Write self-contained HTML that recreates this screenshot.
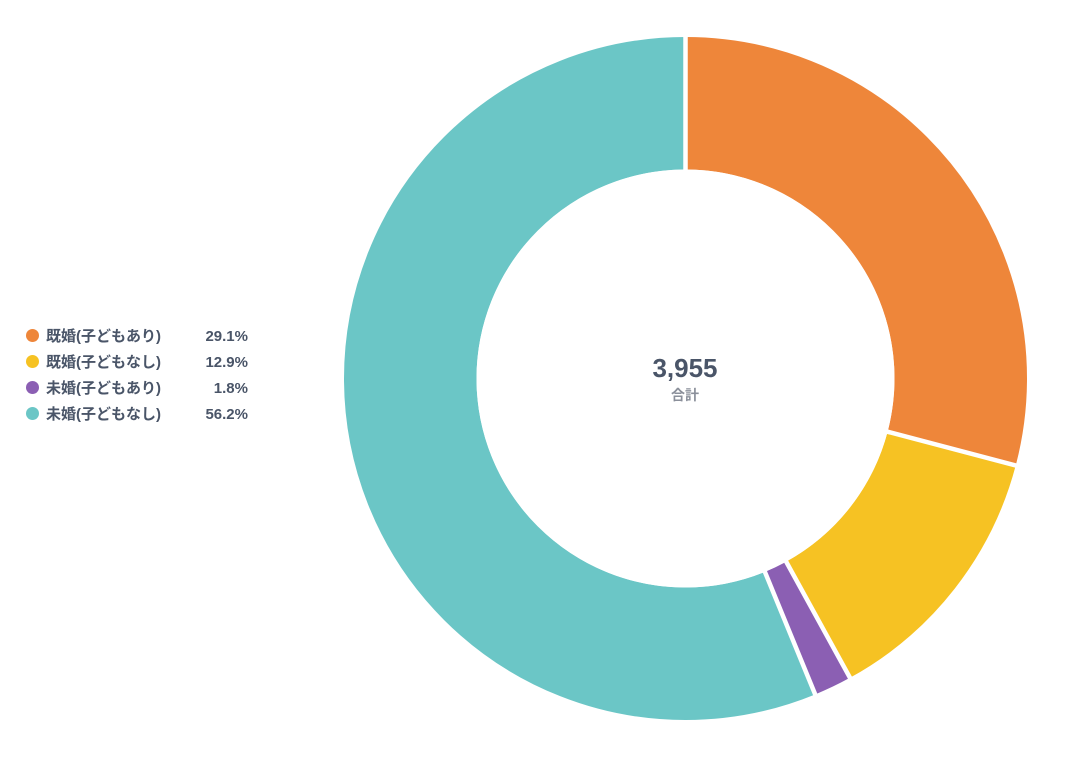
<!DOCTYPE html>
<html><head><meta charset="utf-8"><style>
body{margin:0;background:#fff;width:1067px;height:761px;overflow:hidden;font-family:"Liberation Sans","Noto Sans CJK JP",sans-serif;}
.lg{position:absolute;left:26px;font-size:15px;font-weight:bold;color:#4a5568;height:20px;line-height:20px;}
.lg i{display:inline-block;width:13px;height:13px;border-radius:50%;vertical-align:-1px;margin-right:7px;}
.lg b{position:absolute;left:0;width:222px;text-align:right;top:0;}
</style></head><body>
<svg width="1067" height="761" style="position:absolute;left:0;top:0">
<g transform="rotate(-90 685.5 378.5)" fill="none" stroke-width="132.5">
<circle cx="685.5" cy="378.5" r="275.25" stroke="#ee863a" stroke-dasharray="503.27 2000" stroke-dashoffset="0"/>
<circle cx="685.5" cy="378.5" r="275.25" stroke="#f6c223" stroke-dasharray="223.10 2000" stroke-dashoffset="-503.27"/>
<circle cx="685.5" cy="378.5" r="275.25" stroke="#8b5fb3" stroke-dasharray="31.13 2000" stroke-dashoffset="-726.37"/>
<circle cx="685.5" cy="378.5" r="275.25" stroke="#6bc6c6" stroke-dasharray="971.95 2000" stroke-dashoffset="-757.50"/>
</g>
<g stroke="#fff" stroke-width="4.5">
<line x1="685.5" y1="378.5" x2="685.5" y2="20"/>
<line x1="685.5" y1="378.5" x2="1033.6" y2="470.2"/>
<line x1="685.5" y1="378.5" x2="858.9" y2="694.0"/>
<line x1="685.5" y1="378.5" x2="822.2" y2="711.5"/>
</g>
<circle cx="685.5" cy="378.5" r="209" fill="#fff"/>
<text x="685" y="377" text-anchor="middle" font-family="Liberation Sans, sans-serif" font-size="26" font-weight="bold" fill="#4a5568">3,955</text>
<text x="685" y="400" text-anchor="middle" font-family="Liberation Sans, Noto Sans CJK JP, sans-serif" font-size="14" font-weight="bold" fill="#8a8f9a">合計</text>
</svg>
<div class="lg" style="top:327px"><i style="background:#ee863a"></i>既婚(子どもあり)<b>29.1%</b></div>
<div class="lg" style="top:353px"><i style="background:#f6c223"></i>既婚(子どもなし)<b>12.9%</b></div>
<div class="lg" style="top:379px"><i style="background:#8b5fb3"></i>未婚(子どもあり)<b>1.8%</b></div>
<div class="lg" style="top:405px"><i style="background:#6bc6c6"></i>未婚(子どもなし)<b>56.2%</b></div>
</body></html>
